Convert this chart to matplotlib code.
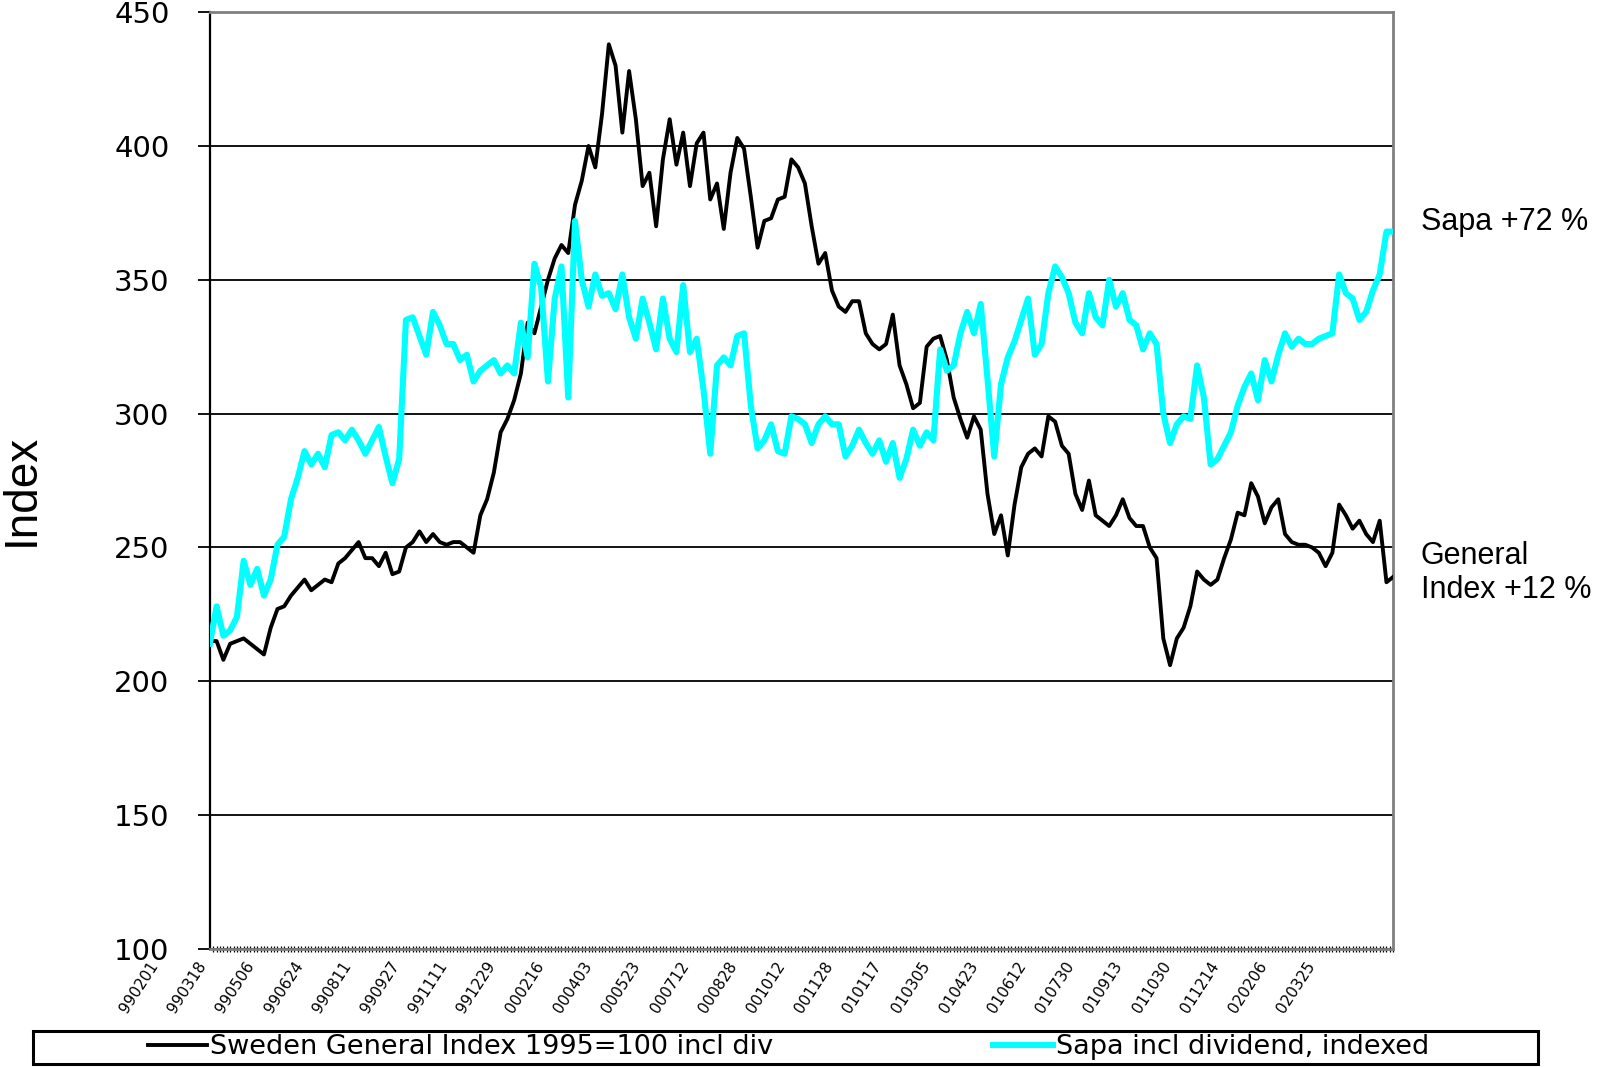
#!/usr/bin/env python3
# -*- coding: utf-8 -*-

import numpy as np
import matplotlib
matplotlib.use("Agg")
import matplotlib.pyplot as plt
import matplotlib.transforms as mtransforms
from matplotlib.patches import Rectangle
from matplotlib.ticker import MultipleLocator

# weekly readings, Sweden General Index (1995=100, incl div)
general = [215, 215, 208, 214, 215, 216, 214, 212, 210, 220, 227, 228, 232, 235, 238, 234,
           236, 238, 237, 244, 246, 249, 252, 246, 246, 243, 248, 240, 241, 250, 252, 256,
           252, 255, 252, 251, 252, 252, 250, 248, 262, 268, 278, 293,
           298, 305, 315, 334, 330, 340, 350, 358, 363, 360, 378, 387, 400, 392, 412, 438,
           430, 405, 428, 410, 385, 390, 370, 395, 410, 393, 405, 385, 401, 405, 380, 386,
           369, 390, 403, 399, 381, 362, 372, 373, 380, 381, 395,
           392, 386, 370, 356, 360, 346, 340, 338, 342, 342, 330, 326, 324, 326, 337, 318,
           311, 302, 304, 325, 328, 329, 320, 306, 298, 291, 299, 294, 270, 255, 262, 247,
           266, 280, 285, 287, 284, 299, 297, 288, 285, 270, 264, 275,
           262, 260, 258, 262, 268, 261, 258, 258, 250, 246, 216, 206, 216, 220, 228, 241,
           238, 236, 238, 246, 253, 263, 262, 274, 269, 259, 265, 268, 255, 252, 251, 251,
           250, 248, 243, 248, 266, 262, 257, 260, 255, 252, 260, 237, 239]

# weekly readings, Sapa incl dividend, indexed
sapa = [214, 228, 217, 219, 224, 245, 236, 242, 232, 238, 251, 254, 268, 276, 286, 281,
        285, 280, 292, 293, 290, 294, 290, 285, 290, 295, 284, 274, 283, 335, 336, 329,
        322, 338, 333, 326, 326, 320, 322, 312, 316, 318, 320, 315,
        318, 315, 334, 321, 356, 347, 312, 343, 355, 306, 372, 350, 340, 352, 344, 345,
        339, 352, 336, 328, 343, 334, 324, 343, 328, 323, 348, 323, 328, 309, 285, 318,
        321, 318, 329, 330, 303, 287, 290, 296, 286, 285, 299,
        298, 296, 289, 296, 299, 296, 296, 284, 288, 294, 289, 285, 290, 282, 289, 276,
        283, 294, 288, 293, 290, 324, 316, 318, 330, 338, 330, 341, 313, 284, 311, 321,
        327, 335, 343, 322, 326, 345, 355, 351, 345, 334, 330, 345,
        336, 333, 350, 340, 345, 335, 333, 324, 330, 326, 300, 289, 296, 299, 298, 318,
        306, 281, 283, 288, 293, 303, 310, 315, 305, 320, 312, 322, 330, 325, 328, 326,
        326, 328, 329, 330, 352, 345, 343, 335, 338, 346, 352, 368, 368]

date_labels = ["990201", "990318", "990506", "990624", "990811", "990927", "991111",
               "991229", "000216", "000403", "000523", "000712", "000828", "001012",
               "001128", "010117", "010305", "010423", "010612", "010730", "010913",
               "011030", "011214", "020206", "020325"]
label_step = 7.13  # weeks between date labels

y_ticks = [100, 150, 200, 250, 300, 350, 400, 450]


def main():
    fig = plt.figure(figsize=(15.97, 10.67), dpi=100)
    ax = fig.add_axes([0.1314, 0.1107, 0.7410, 0.8779])

    x = np.arange(len(general))
    ax.plot(x, general, color="black", lw=2.8, zorder=3,
            label="Sweden General Index 1995=100 incl div")
    ax.plot(x, sapa, color="#00FFFF", lw=4.4, zorder=4,
            label="Sapa incl dividend, indexed")

    ax.set_xlim(0, len(general) - 1)
    ax.set_ylim(100, 450)
    ax.set_yticks(y_ticks)
    ax.set_yticklabels([str(v) for v in y_ticks], fontsize=21, family="DejaVu Sans")
    ax.grid(axis="y", color="black", lw=1.3)
    ax.set_axisbelow(True)

    ax.tick_params(axis="y", direction="out", length=9, width=1.3, pad=20)
    ax.spines["left"].set_color("black")
    ax.spines["left"].set_linewidth(1.6)
    for side in ["top", "right", "bottom"]:
        ax.spines[side].set_color("#808080")
        ax.spines[side].set_linewidth(2)

    # date labels, shifted left like the original
    ticks = np.arange(len(date_labels)) * label_step
    ax.set_xticks(ticks)
    ax.set_xticklabels(date_labels, fontsize=11, family="DejaVu Sans")
    ax.xaxis.set_minor_locator(MultipleLocator(0.5))
    ax.tick_params(axis="x", which="major", length=0, pad=0)
    ax.tick_params(axis="x", which="minor", direction="inout", length=5, width=0.9)
    offset = mtransforms.ScaledTranslation(-0.55, -0.14, fig.dpi_scale_trans)
    for lbl in ax.get_xticklabels():
        lbl.set_rotation(57)
        lbl.set_rotation_mode("anchor")
        lbl.set_ha("right")
        lbl.set_va("center")
        lbl.set_transform(lbl.get_transform() + offset)

    ax.set_ylabel("Index", fontsize=33, family="Liberation Sans")
    ax.yaxis.set_label_coords(-0.140, 0.49)

    fig.text(0.8896, 0.792, "Sapa +72 %", fontsize=22, family="Liberation Sans",
             va="center", ha="left")
    fig.text(0.8896, 0.463, "General\nIndex +12 %", fontsize=22, family="Liberation Sans",
             va="center", ha="left", linespacing=1.2)

    # legend box along the bottom
    fig.patches.append(Rectangle((0.0204, 0.0029), 0.9426, 0.0305, transform=fig.transFigure,
                                 fill=False, edgecolor="black", lw=2.2))
    h1, h2 = ax.get_lines()
    fig.legend(handles=[h1], loc="center left", bbox_to_anchor=(0.0925, 0.0185),
               frameon=False, handlelength=2.2, handletextpad=0.1,
               borderpad=0, borderaxespad=0, prop={"family": "DejaVu Sans", "size": 19.5})
    fig.legend(handles=[h2], loc="center left", bbox_to_anchor=(0.622, 0.0185),
               frameon=False, handlelength=2.2, handletextpad=0.1,
               borderpad=0, borderaxespad=0, prop={"family": "DejaVu Sans", "size": 19.5})

    fig.savefig("out.png", dpi=100)


if __name__ == "__main__":
    main()
